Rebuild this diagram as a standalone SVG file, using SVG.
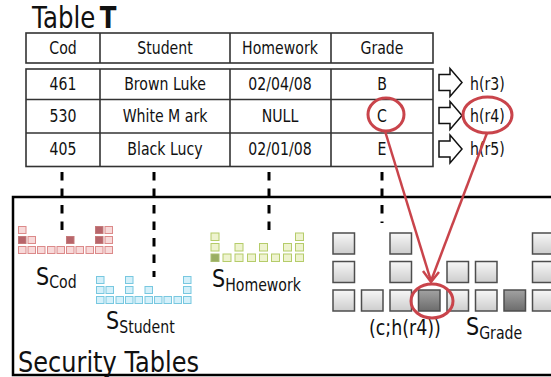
<svg xmlns="http://www.w3.org/2000/svg" width="551" height="377" viewBox="0 0 551 377">
<defs>
<linearGradient id="gl" x1="0" y1="0" x2="0" y2="1">
<stop offset="0" stop-color="#f7f7f7"/><stop offset="0.5" stop-color="#e2e2e2"/><stop offset="1" stop-color="#cdcdcd"/>
</linearGradient>
<linearGradient id="gd" x1="0" y1="0" x2="0" y2="1">
<stop offset="0" stop-color="#a2a2a2"/><stop offset="1" stop-color="#6c6c6c"/>
</linearGradient>
</defs>
<style>
text{font-family:"DejaVu Sans","Liberation Sans",sans-serif;fill:#111}
.t{font-size:17px}
.c{text-anchor:middle}
.tb{fill:#fff;stroke:#333;stroke-width:1.6}
.ln{stroke:#333;stroke-width:1.6}
.dash{stroke:#000;stroke-width:3;stroke-dasharray:8.5 8;fill:none}
.rl{fill:#f7d9d9;stroke:#dc8a8a;stroke-width:1}
.rd{fill:#b7656b;stroke:#c57a7a;stroke-width:1}
.bl{fill:#d4f0fa;stroke:#78c8e0;stroke-width:1}
.gnl{fill:#eef3cf;stroke:#b5cc6a;stroke-width:1}
.gnd{fill:#9aae63;stroke:#a9bd70;stroke-width:1}
.gy{fill:url(#gl);stroke:#4d4d4d;stroke-width:1.5}
.gyd{fill:url(#gd);stroke:#4d4d4d;stroke-width:1.5}
.red{fill:none;stroke:#c9444b;stroke-width:3}
.redl{fill:none;stroke:#c9444b;stroke-width:2.5;stroke-linejoin:miter}
.arr{fill:#fff;stroke:#111;stroke-width:1.5}
</style>

<g id="title">
<text transform="translate(32,27.5) scale(0.83,1)" font-size="29.5" word-spacing="-4">Table <tspan font-weight="bold">T</tspan></text>
</g>

<g id="tableT">
<rect class="tb" x="26" y="33" width="407" height="30"/>
<line class="ln" x1="100" y1="33" x2="100" y2="63"/>
<line class="ln" x1="230" y1="33" x2="230" y2="63"/>
<line class="ln" x1="331" y1="33" x2="331" y2="63"/>
<rect class="tb" x="26" y="69" width="407" height="97.5"/>
<line class="ln" x1="26" y1="99.5" x2="433" y2="99.5"/>
<line class="ln" x1="26" y1="133" x2="433" y2="133"/>
<line class="ln" x1="100" y1="69" x2="100" y2="166.5"/>
<line class="ln" x1="230" y1="69" x2="230" y2="166.5"/>
<line class="ln" x1="331" y1="69" x2="331" y2="166.5"/>
<text class="t c" transform="translate(63,54) scale(0.83,1)">Cod</text>
<text class="t c" transform="translate(165,54) scale(0.83,1)">Student</text>
<text class="t c" transform="translate(280,54) scale(0.83,1)">Homework</text>
<text class="t c" transform="translate(382,54) scale(0.83,1)">Grade</text>
<text class="t c" transform="translate(63,90) scale(0.83,1)">461</text>
<text class="t c" transform="translate(165,90) scale(0.83,1)">Brown Luke</text>
<text class="t c" transform="translate(280,90) scale(0.83,1)">02/04/08</text>
<text class="t c" transform="translate(382,90) scale(0.83,1)">B</text>
<text class="t c" transform="translate(63,122) scale(0.83,1)">530</text>
<text class="t c" transform="translate(165,122) scale(0.83,1)">White M ark</text>
<text class="t c" transform="translate(280,122) scale(0.83,1)">NULL</text>
<text class="t c" transform="translate(382,122) scale(0.83,1)">C</text>
<text class="t c" transform="translate(63,155) scale(0.83,1)">405</text>
<text class="t c" transform="translate(165,155) scale(0.83,1)">Black Lucy</text>
<text class="t c" transform="translate(280,155) scale(0.83,1)">02/01/08</text>
<text class="t c" transform="translate(382,155) scale(0.83,1)">E</text>
</g>

<g id="hashes">
<path class="arr" d="M439,74.5 H450 V68.5 L462,82.5 L450,96.5 V90.5 H439 Z"/>
<path class="arr" d="M439,107.5 H450 V101.5 L462,115.5 L450,129.5 V123.5 H439 Z"/>
<path class="arr" d="M439,141 H450 V135 L462,149 L450,163 V157 H439 Z"/>
<text class="t" transform="translate(470,90) scale(0.83,1)">h(r3)</text>
<text class="t" transform="translate(470,122) scale(0.83,1)">h(r4)</text>
<text class="t" transform="translate(470,155) scale(0.83,1)">h(r5)</text>
</g>

<g id="securityBox">
<rect x="13" y="197" width="560" height="178" fill="none" stroke="#000" stroke-width="2.5"/>
<text transform="translate(18,372) scale(0.83,1)" font-size="29">Security Tables</text>
</g>

<g id="SCod">
<rect class="rl" x="18.5" y="226.5" width="7.5" height="7"/>
<rect class="rd" x="95.5" y="226.5" width="7.5" height="7"/>
<rect class="rl" x="105" y="226.5" width="7.5" height="7"/>
<rect class="rd" x="18.5" y="236.5" width="7.5" height="7"/>
<rect class="rl" x="28" y="236.5" width="7.5" height="7"/>
<rect class="rd" x="66.5" y="236.5" width="7.5" height="7"/>
<rect class="rd" x="95.5" y="236.5" width="7.5" height="7"/>
<rect class="rl" x="105" y="236.5" width="7.5" height="7"/>
<rect class="rl" x="18.5" y="246.5" width="7.5" height="7"/>
<rect class="rl" x="28" y="246.5" width="7.5" height="7"/>
<rect class="rl" x="37.5" y="246.5" width="7.5" height="7"/>
<rect class="rl" x="47.5" y="246.5" width="7.5" height="7"/>
<rect class="rl" x="57" y="246.5" width="7.5" height="7"/>
<rect class="rl" x="66.5" y="246.5" width="7.5" height="7"/>
<rect class="rl" x="76" y="246.5" width="7.5" height="7"/>
<rect class="rl" x="86" y="246.5" width="7.5" height="7"/>
<rect class="rl" x="95.5" y="246.5" width="7.5" height="7"/>
<rect class="rl" x="105" y="246.5" width="7.5" height="7"/>
<text transform="translate(36,285) scale(0.83,1)" font-size="25">S<tspan font-size="17" dy="3">Cod</tspan></text>
</g>

<g id="SStudent">
<rect class="bl" x="96.5" y="276.5" width="7.5" height="7"/>
<rect class="bl" x="125.5" y="276.5" width="7.5" height="7"/>
<rect class="bl" x="183.5" y="276.5" width="7.5" height="7"/>
<rect class="bl" x="96.5" y="286.5" width="7.5" height="7"/>
<rect class="bl" x="106" y="286.5" width="7.5" height="7"/>
<rect class="bl" x="125.5" y="286.5" width="7.5" height="7"/>
<rect class="bl" x="145" y="286.5" width="7.5" height="7"/>
<rect class="bl" x="183.5" y="286.5" width="7.5" height="7"/>
<rect class="bl" x="96.5" y="296.5" width="7.5" height="7"/>
<rect class="bl" x="106" y="296.5" width="7.5" height="7"/>
<rect class="bl" x="116" y="296.5" width="7.5" height="7"/>
<rect class="bl" x="125.5" y="296.5" width="7.5" height="7"/>
<rect class="bl" x="135" y="296.5" width="7.5" height="7"/>
<rect class="bl" x="145" y="296.5" width="7.5" height="7"/>
<rect class="bl" x="154.5" y="296.5" width="7.5" height="7"/>
<rect class="bl" x="164" y="296.5" width="7.5" height="7"/>
<rect class="bl" x="174" y="296.5" width="7.5" height="7"/>
<rect class="bl" x="183.5" y="296.5" width="7.5" height="7"/>
<text transform="translate(106,329) scale(0.83,1)" font-size="25">S<tspan font-size="17" dy="4">Student</tspan></text>
</g>

<g id="SHomework">
<rect class="gnl" x="211" y="233" width="8" height="7.5"/>
<rect class="gnl" x="295.5" y="233" width="8" height="7.5"/>
<rect class="gnl" x="211" y="243.5" width="8" height="7.5"/>
<rect class="gnl" x="235" y="243.5" width="8" height="7.5"/>
<rect class="gnl" x="259.5" y="243.5" width="8" height="7.5"/>
<rect class="gnl" x="283.5" y="243.5" width="8" height="7.5"/>
<rect class="gnl" x="295.5" y="243.5" width="8" height="7.5"/>
<rect class="gnd" x="211" y="254" width="8" height="7.5"/>
<rect class="gnl" x="223" y="254" width="8" height="7.5"/>
<rect class="gnl" x="235" y="254" width="8" height="7.5"/>
<rect class="gnl" x="247.5" y="254" width="8" height="7.5"/>
<rect class="gnl" x="259.5" y="254" width="8" height="7.5"/>
<rect class="gnl" x="271.5" y="254" width="8" height="7.5"/>
<rect class="gnl" x="283.5" y="254" width="8" height="7.5"/>
<rect class="gnl" x="295.5" y="254" width="8" height="7.5"/>
<text transform="translate(212,287) scale(0.83,1)" font-size="25">S<tspan font-size="17" dy="4">Homework</tspan></text>
</g>

<g id="SGrade">
<rect class="gy" x="333" y="233" width="21.5" height="21"/>
<rect class="gy" x="390" y="233" width="21.5" height="21"/>
<rect class="gy" x="532.5" y="233" width="21.5" height="21"/>
<rect class="gy" x="333" y="261.5" width="21.5" height="21"/>
<rect class="gy" x="390" y="261.5" width="21.5" height="21"/>
<rect class="gy" x="447" y="261.5" width="21.5" height="21"/>
<rect class="gy" x="475.5" y="261.5" width="21.5" height="21"/>
<rect class="gy" x="532.5" y="261.5" width="21.5" height="21"/>
<rect class="gy" x="333" y="290" width="21.5" height="21"/>
<rect class="gy" x="361.5" y="290" width="21.5" height="21"/>
<rect class="gy" x="390" y="290" width="21.5" height="21"/>
<rect class="gyd" x="418.5" y="290" width="21.5" height="21"/>
<rect class="gy" x="447" y="290" width="21.5" height="21"/>
<rect class="gy" x="475.5" y="290" width="21.5" height="21"/>
<rect class="gyd" x="504" y="290" width="21.5" height="21"/>
<rect class="gy" x="532.5" y="290" width="21.5" height="21"/>
<text transform="translate(369,335) scale(0.83,1)" font-size="21">(c;h(r4))</text>
<text transform="translate(466,335) scale(0.83,1)" font-size="25">S<tspan font-size="17" dy="4">Grade</tspan></text>
</g>

<g id="connectors">
<line class="dash" x1="62" y1="172" x2="62" y2="232"/>
<line class="dash" x1="154" y1="172" x2="154" y2="277"/>
<line class="dash" x1="269" y1="172" x2="269" y2="232"/>
<line class="dash" x1="382" y1="172" x2="382" y2="223"/>
<ellipse class="red" cx="386" cy="114.5" rx="18" ry="16.5"/>
<ellipse class="red" cx="487.5" cy="115" rx="24.5" ry="18"/>
<ellipse class="red" cx="432" cy="301" rx="21" ry="17"/>
<line class="redl" x1="385" y1="131" x2="431" y2="281"/>
<line class="redl" x1="487" y1="133" x2="431" y2="281"/>
<path class="redl" d="M423,271 L431,282 L439,272"/>
</g>
</svg>
